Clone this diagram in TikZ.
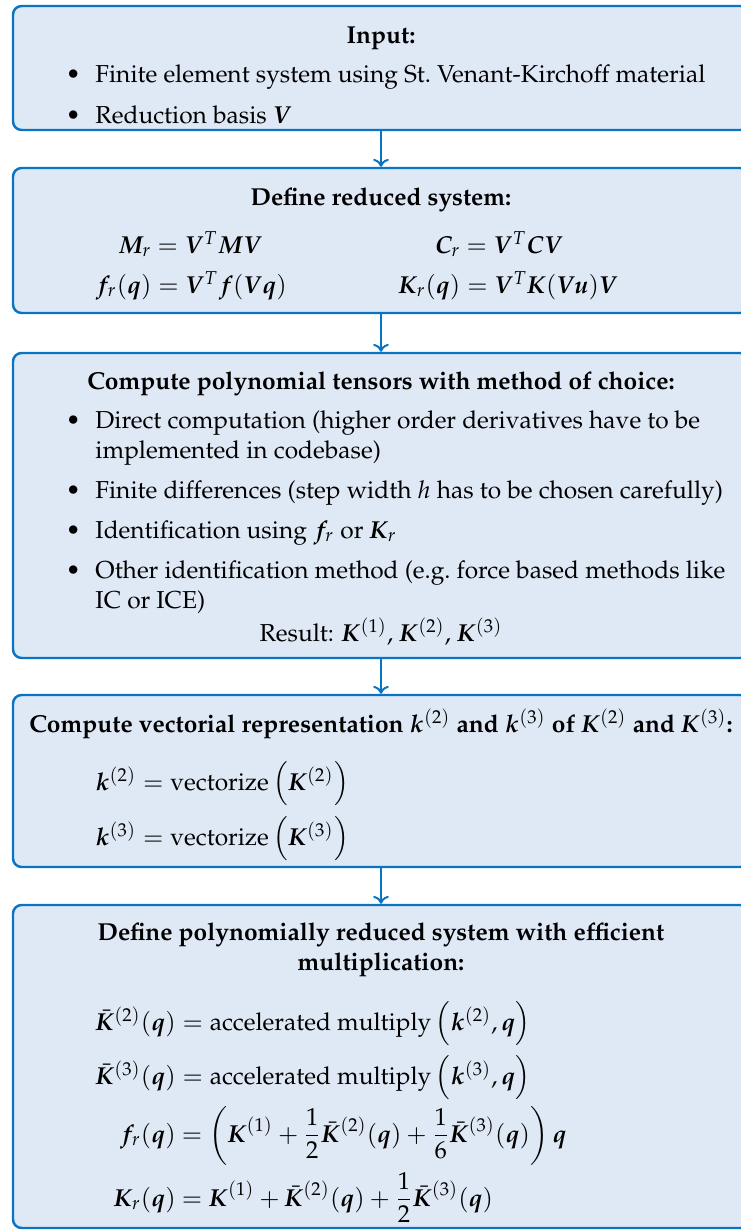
\documentclass[tikz,border=0pt]{standalone}
\usepackage[T1]{fontenc}
\usepackage{mathpazo}
\usepackage{amsmath}
\usepackage{bm}
\usepackage{calc}
\usetikzlibrary{fit,arrows.meta}

\definecolor{cfill}{RGB}{223,232,245}
\definecolor{cedge}{RGB}{10,116,196}
\tikzset{flowchart/.style={x=0.408pt,y=-0.408pt,font=\normalsize}}
\tikzset{flowbox/.style={draw=cedge,fill=cfill,line width=1pt,rounded corners=3.5pt,inner sep=0pt},
         flowarrow/.style={cedge,line width=0.8pt,-{To[length=3.2pt,width=6.4pt]}},
         boxhead/.style={anchor=base,font=\bfseries,align=center,inner sep=0pt},
         bulletitem/.style={anchor=base west,align=left,inner sep=0pt},
         eqline/.style={anchor=base west,inner sep=0pt}}
\newcommand{\itembullet}{\makebox[0pt][r]{\textbullet\hspace{6pt}}}
% right-aligned left-hand side, padded to the width of #1
\newcommand{\lhs}[2]{\makebox[\widthof{$#1$}][r]{$#2$}}

\begin{document}
\begin{tikzpicture}[flowchart]
    \useasboundingbox (0,0) rectangle (740,1230);
    % boxes
    \node[flowbox,fit={(13,6) (749,130)}]     (input) {};
    \node[flowbox,fit={(13,168) (749,313)}]   (reduced) {};
    \node[flowbox,fit={(13,353) (749,658)}]   (tensors) {};
    \node[flowbox,fit={(13,695) (749,867)}]   (vectorial) {};
    \node[flowbox,fit={(13,905) (749,1228)}]  (polyred) {};
    \draw[flowarrow] (input) -- (reduced);
    \draw[flowarrow] (reduced) -- (tensors);
    \draw[flowarrow] (tensors) -- (vectorial);
    \draw[flowarrow] (vectorial) -- (polyred);

    % input (multi-line nodes sit on the baseline of their last line)
    \node[boxhead] (input-head) at (381,44) {Input:};
    \node[bulletitem] (input-fem) at (95,83) {\itembullet Finite element system using St.\ Venant-Kirchoff material};
    \node[bulletitem] (input-basis) at (95,123) {\itembullet Reduction basis $\bm V$};

    % reduced system
    \node[boxhead] (reduced-head) at (381,205) {Define reduced system:};
    \node[eqline] (reduced-m) at (95,253) {\lhs{\bm f_r(\bm q)}{\bm M_r} $= \bm V^T\bm M\bm V$};
    \node[eqline] (reduced-f) at (95,293) {$\bm f_r(\bm q) = \bm V^T\bm f(\bm V\bm q)$};
    \node[eqline] (reduced-c) at (398,253) {\lhs{\bm K_r(\bm q)}{\bm C_r} $= \bm V^T\bm C\bm V$};
    \node[eqline] (reduced-k) at (398,293) {$\bm K_r(\bm q) = \bm V^T\bm K(\bm V\bm u)\bm V$};

    % polynomial tensors
    \node[boxhead] (tensors-head) at (381,389) {Compute polynomial tensors with method of choice:};
    \node[bulletitem] (tensors-direct) at (95,458) {\itembullet Direct computation (higher order derivatives have to be\\implemented in codebase)};
    \node[bulletitem] (tensors-fd) at (95,498) {\itembullet Finite differences (step width $h$ has to be chosen carefully)};
    \node[bulletitem] (tensors-id) at (95,538) {\itembullet Identification using $\bm f_r$ or $\bm K_r$};
    \node[bulletitem] (tensors-other) at (95,608) {\itembullet Other identification method (e.g.\ force based methods like\\IC or ICE)};
    \node[anchor=base,inner sep=0pt] (tensors-result) at (381,641) {Result: $\bm K^{(1)}$, $\bm K^{(2)}$, $\bm K^{(3)}$};

    % vectorial representation
    \node[boxhead] (vectorial-head) at (381,732) {Compute vectorial representation $\bm k^{(2)}$ and $\bm k^{(3)}$ of $\bm K^{(2)}$ and $\bm K^{(3)}$:};
    \node[eqline] (vectorial-2) at (95,790) {$\bm k^{(2)} = \text{vectorize}\left(\bm K^{(2)}\right)$};
    \node[eqline] (vectorial-3) at (95,845) {$\bm k^{(3)} = \text{vectorize}\left(\bm K^{(3)}\right)$};

    % polynomially reduced system
    \node[boxhead] (polyred-head) at (381,970) {Define polynomially reduced system with efficient\\multiplication:};
    \node[eqline] (polyred-k2) at (95,1030) {$\bar{\bm K}^{(2)}(\bm q) = \text{accelerated multiply}\left(\bm k^{(2)},\bm q\right)$};
    \node[eqline] (polyred-k3) at (95,1084) {$\bar{\bm K}^{(3)}(\bm q) = \text{accelerated multiply}\left(\bm k^{(3)},\bm q\right)$};
    \node[eqline] (polyred-f) at (95,1142) {\lhs{\bar{\bm K}^{(2)}(\bm q)}{\bm f_r(\bm q)} $\displaystyle = \left(\bm K^{(1)} + \frac{1}{2}\bar{\bm K}^{(2)}(\bm q) + \frac{1}{6}\bar{\bm K}^{(3)}(\bm q)\right)\bm q$};
    \node[eqline] (polyred-k) at (95,1206) {\lhs{\bar{\bm K}^{(2)}(\bm q)}{\bm K_r(\bm q)} $\displaystyle = \bm K^{(1)} + \bar{\bm K}^{(2)}(\bm q) + \frac{1}{2}\bar{\bm K}^{(3)}(\bm q)$};
\end{tikzpicture}
\end{document}
